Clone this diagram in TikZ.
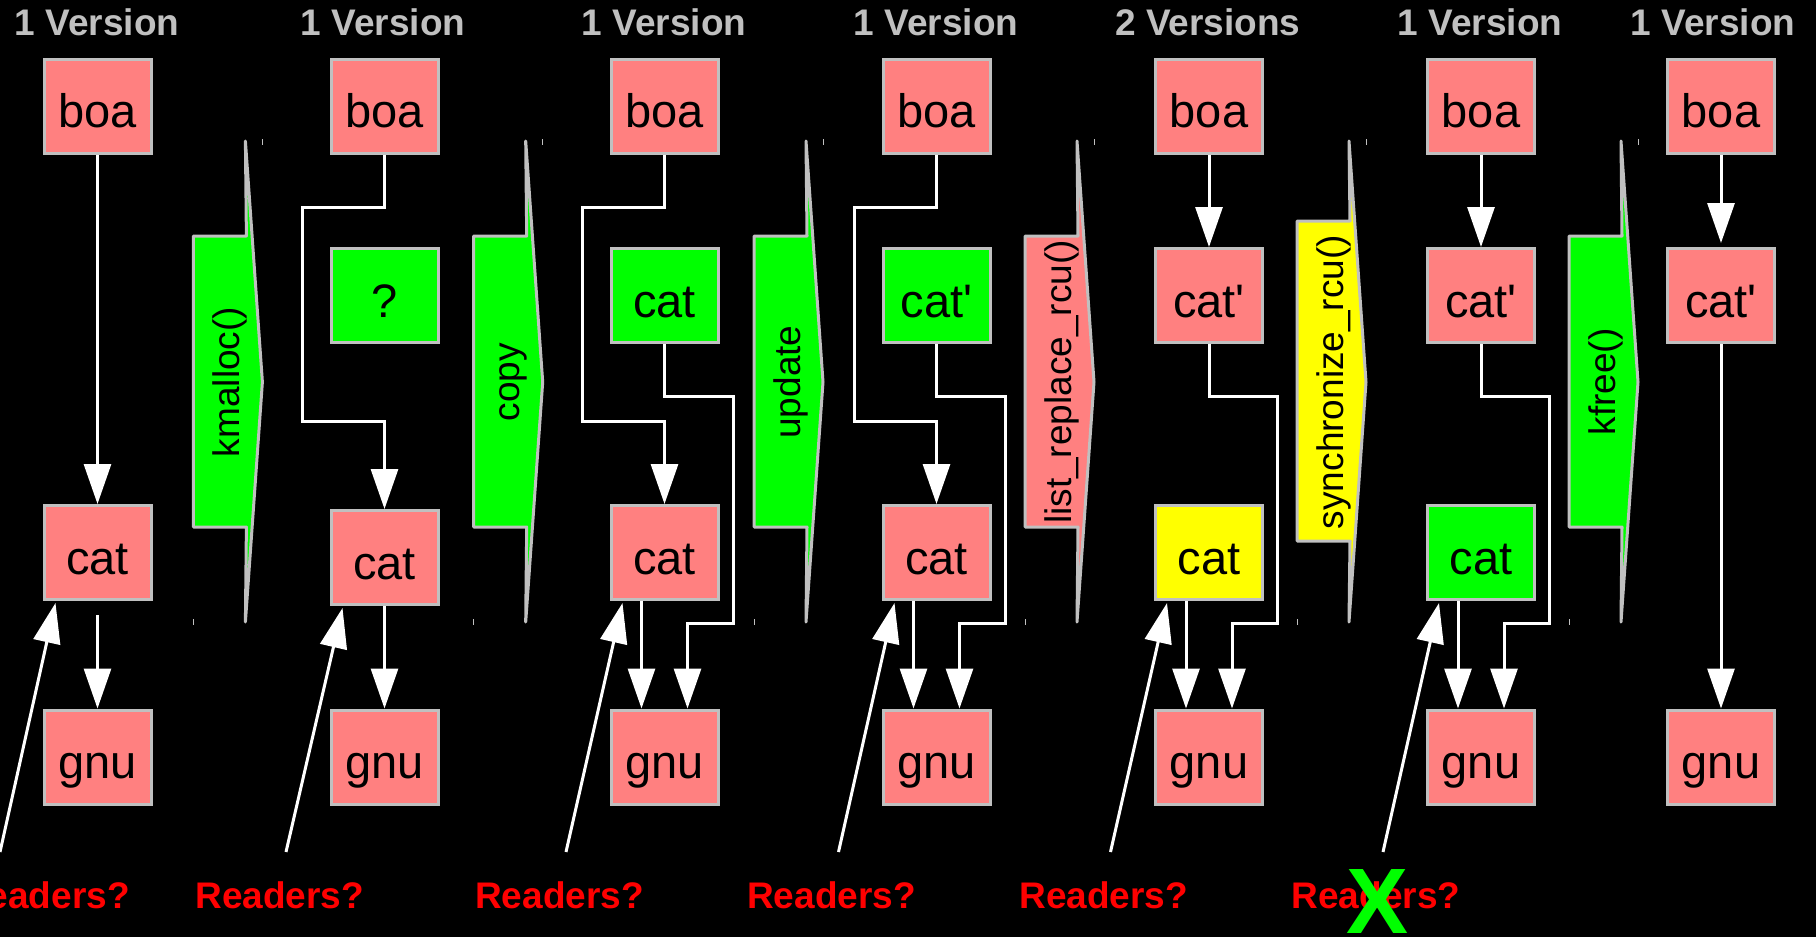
\documentclass[tikz,border=0pt]{standalone}
\usepackage{fontspec}
\setmainfont{Liberation Sans}[Ligatures=TeXOff]
\usetikzlibrary{arrows.meta}
\definecolor{pinkbox}{HTML}{FF8080}
\definecolor{greenbox}{HTML}{00FF00}
\definecolor{yellowbox}{HTML}{FFFF00}
\definecolor{edgegray}{HTML}{C0C0C0}
\definecolor{titlegray}{HTML}{C0C0C0}
\newcommand\blkarrow[6]{%
  \draw[blkshape, fill=#5] ({#2+52},141) -- ({#2+69},382) -- ({#2+52},622) -- ({#2+53},#4) -- (#2,#4) -- (#2,#3) -- ({#2+53},#3) -- cycle;
  \node[oplabel] (#1) at ({#2+46},382) {#6};
  \draw[tickmark] ({#2+69},139) -- ({#2+69},145);
  \draw[tickmark] (#2,619) -- (#2,625);
}
\begin{document}
\begin{tikzpicture}[x=1pt,y=-1pt,
  box/.style={draw=edgegray, line width=3pt, minimum width=107pt, minimum height=94pt,
    inner sep=0pt, text height=43pt, text depth=0pt, font=\fontsize{47}{50}\selectfont, text=black},
  pinkb/.style={box, fill=pinkbox},
  greenb/.style={box, fill=greenbox},
  yellowb/.style={box, fill=yellowbox},
  conn/.style={draw=white, line width=3pt},
  arr/.style={-{Triangle[length=40pt,width=27pt]}},
  ttl/.style={anchor=base, text=titlegray, font=\bfseries\fontsize{37}{40}\selectfont, inner sep=0pt},
  readers/.style={anchor=base, text=red, font=\bfseries\fontsize{37}{40}\selectfont, inner sep=0pt},
  oplabel/.style={anchor=base, rotate=90, font=\fontsize{37}{40}\selectfont, inner sep=0pt, text=black},
  blkshape/.style={draw=edgegray, line width=3pt, line join=round},
  tickmark/.style={draw=edgegray, line width=1pt}
]
\fill[black] (0,0) rectangle (1816,937);
\useasboundingbox (0,0) rectangle (1816,937);

% titles
\node[ttl] (t1) at (97,35) {1 Version};
\node[ttl] (t2) at (383,35) {1 Version};
\node[ttl] (t3) at (664,35) {1 Version};
\node[ttl] (t4) at (936,35) {1 Version};
\node[ttl] (t5) at (1208,35) {2 Versions};
\node[ttl] (t6) at (1480,35) {1 Version};
\node[ttl] (t7) at (1713,35) {1 Version};

% row 1
\node[pinkb] (boa1) at (97.5,106) {boa};
\node[pinkb] (boa2) at (384.5,106) {boa};
\node[pinkb] (boa3) at (664.5,106) {boa};
\node[pinkb] (boa4) at (936.5,106) {boa};
\node[pinkb] (boa5) at (1209,106) {boa};
\node[pinkb] (boa6) at (1481,106) {boa};
\node[pinkb] (boa7) at (1721,106) {boa};

% row 2
\node[greenb] (q2) at (384.5,295.5) {?};
\node[greenb] (catg3) at (664.5,295.5) {cat};
\node[greenb] (catg4) at (936.5,295.5) {cat'};
\node[pinkb] (catp5) at (1209,295.5) {cat'};
\node[pinkb] (catp6) at (1481,295.5) {cat'};
\node[pinkb] (catp7) at (1721,295.5) {cat'};

% row 3
\node[pinkb] (cat1) at (97.5,552.5) {cat};
\node[pinkb] (cat2) at (384.5,557.5) {cat};
\node[pinkb] (cat3) at (664.5,552.5) {cat};
\node[pinkb] (cat4) at (936.5,552.5) {cat};
\node[yellowb] (cat5) at (1209,552.5) {cat};
\node[greenb] (cat6) at (1481,552.5) {cat};

% row 4
\node[pinkb] (gnu1) at (97.5,757) {gnu};
\node[pinkb] (gnu2) at (384.5,757) {gnu};
\node[pinkb] (gnu3) at (664.5,757) {gnu};
\node[pinkb] (gnu4) at (936.5,757) {gnu};
\node[pinkb] (gnu5) at (1209,757) {gnu};
\node[pinkb] (gnu6) at (1481,757) {gnu};
\node[pinkb] (gnu7) at (1721,757) {gnu};

% block arrows
\blkarrow{opk}{193.4}{236}{527}{greenbox}{kmalloc()}
\blkarrow{opc}{473.7}{236}{527}{greenbox}{copy}
\blkarrow{opu}{754}{236}{527}{greenbox}{update}
\blkarrow{opl}{1025}{236}{527}{pinkbox}{list\_replace\_rcu()}
\blkarrow{ops}{1297}{221}{541}{yellowbox}{synchronize\_rcu()}
\blkarrow{opf}{1569}{236}{527}{greenbox}{kfree()}

% column 1
\draw[conn,arr] (boa1) -- (cat1);
\draw[conn,arr,shorten <=14pt] (cat1) -- (gnu1);
% column 2
\draw[conn,arr] (boa2.south) |- (302.5,207) |- ([yshift=88pt]cat2.north) -- (cat2.north);
\draw[conn,arr] (cat2) -- (gnu2);
% column 3
\draw[conn,arr] (boa3.south) |- (582,207) |- ([yshift=83pt]cat3.north) -- (cat3.north);
\draw[conn,arr] ([xshift=-23pt]cat3.south) -- ([xshift=-23pt]gnu3.north);
\draw[conn,arr] (catg3.south) |- (733.5,396) |- ([xshift=23pt,yshift=85pt]gnu3.north) -- ([xshift=23pt]gnu3.north);
% column 4
\draw[conn,arr] (boa4.south) |- (854,207) |- ([yshift=83pt]cat4.north) -- (cat4.north);
\draw[conn,arr] ([xshift=-23pt]cat4.south) -- ([xshift=-23pt]gnu4.north);
\draw[conn,arr] (catg4.south) |- (1005.5,396) |- ([xshift=23pt,yshift=85pt]gnu4.north) -- ([xshift=23pt]gnu4.north);
% column 5
\draw[conn,arr] (boa5) -- (catp5);
\draw[conn,arr] ([xshift=-23pt]cat5.south) -- ([xshift=-23pt]gnu5.north);
\draw[conn,arr] (catp5.south) |- (1277.5,396) |- ([xshift=23pt,yshift=85pt]gnu5.north) -- ([xshift=23pt]gnu5.north);
% column 6
\draw[conn,arr] (boa6) -- (catp6);
\draw[conn,arr] ([xshift=-23pt]cat6.south) -- ([xshift=-23pt]gnu6.north);
\draw[conn,arr] (catp6.south) |- (1549.5,396) |- ([xshift=23pt,yshift=85pt]gnu6.north) -- ([xshift=23pt]gnu6.north);
% column 7
\draw[conn,arr,shorten >=4pt] (boa7) -- (catp7);
\draw[conn,arr] (catp7) -- (gnu7);

% readers
\coordinate (rd1) at (0,852);
\coordinate (rd2) at (286,852);
\coordinate (rd3) at (566,852);
\coordinate (rd4) at (838.5,852);
\coordinate (rd5) at (1110.5,852);
\coordinate (rd6) at (1383,852);
\draw[conn,arr] (rd1) -- ([xshift=13pt,yshift=-2pt]cat1.south west);
\draw[conn,arr] (rd2) -- ([xshift=13pt,yshift=-2pt]cat2.south west);
\draw[conn,arr] (rd3) -- ([xshift=13pt,yshift=-2pt]cat3.south west);
\draw[conn,arr] (rd4) -- ([xshift=13pt,yshift=-2pt]cat4.south west);
\draw[conn,arr] (rd5) -- ([xshift=13pt,yshift=-2pt]cat5.south west);
\draw[conn,arr] (rd6) -- ([xshift=13pt,yshift=-2pt]cat6.south west);

\node[readers] (rt1) at (45.4,908) {Readers?};
\node[readers] (rt2) at (279.7,908) {Readers?};
\node[readers] (rt3) at (559.5,908) {Readers?};
\node[readers] (rt4) at (831.5,908) {Readers?};
\node[readers] (rt5) at (1103.8,908) {Readers?};
\node[readers] (rt6) at (1375.9,908) {Readers?};
\node[anchor=base, inner sep=0pt, text=greenbox, font=\bfseries\fontsize{93}{95}\selectfont] (xmark) at (1378,933) {X};
\end{tikzpicture}
\end{document}
